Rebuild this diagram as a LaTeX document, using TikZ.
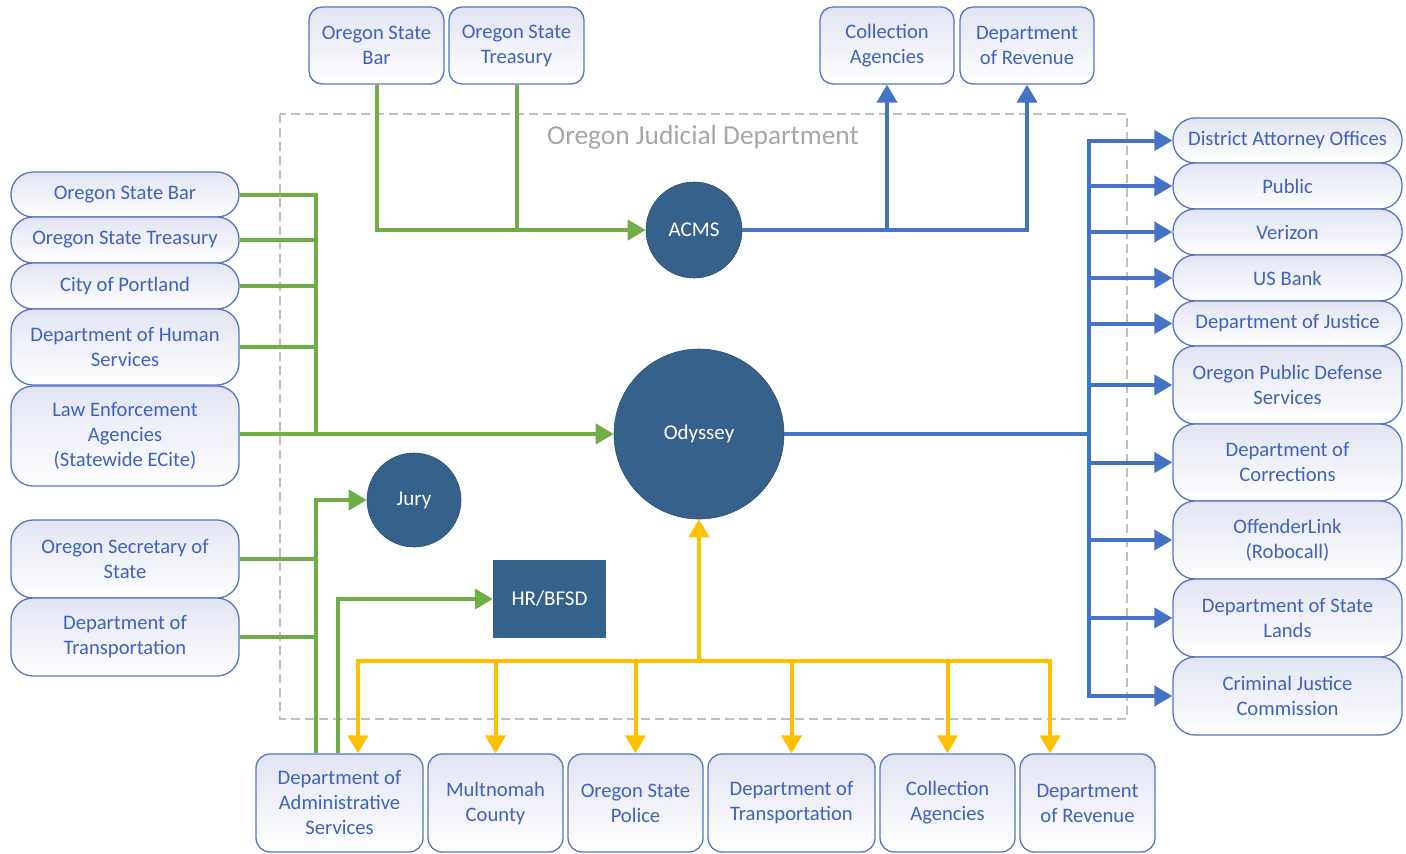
\documentclass[tikz,border=0pt]{standalone}
\usepackage{fontspec}
\setmainfont{Carlito}
\usetikzlibrary{arrows.meta}
\definecolor{gcol}{HTML}{70AD47}
\definecolor{bcol}{HTML}{4472C4}
\definecolor{ycol}{HTML}{FFC000}
\definecolor{navy}{HTML}{36618A}
\definecolor{bbord}{HTML}{5874C4}
\definecolor{btext}{HTML}{3E62BE}
\definecolor{bfill}{HTML}{E2E4F3}
\definecolor{dgray}{HTML}{BFBFBF}
\definecolor{lgray}{HTML}{A6A6A6}
\tikzset{
  basebox/.style={draw=bbord, line width=1.3pt, top color=bfill, bottom color=white, text=btext,
    align=center, inner sep=0pt, font=\fontsize{20.6}{25}\selectfont},
  sbox/.style={basebox, rounded corners=22pt, minimum width=228pt},
  tbox/.style={basebox, rounded corners=13pt, minimum width=135pt, minimum height=77pt},
  bbox/.style={basebox, rounded corners=14pt, minimum height=98pt},
  sysc/.style={circle, fill=navy, draw=navy!80!black, line width=0.6pt, text=white, inner sep=0pt, font=\fontsize{21}{24}\selectfont},
  gline/.style={draw=gcol, line width=4pt},
  bline/.style={draw=bcol, line width=4pt},
  yline/.style={draw=ycol, line width=4pt},
  garrow/.style={gline, -{Triangle[length=18pt,width=20pt]}},
  barrow/.style={bline, -{Triangle[length=18pt,width=20pt]}},
  yarrow/.style={yline, -{Triangle[length=18pt,width=20pt]}},
  dashbox/.style={draw=dgray, line width=1.4pt, dash pattern=on 9pt off 5pt},
}
\begin{document}
\begin{tikzpicture}[x=1pt,y=-1pt]
\useasboundingbox (0,0) rectangle (1406,854);
% Judicial department frame
\draw[dashbox] (280,114) rectangle (1127,719);
\node[text=lgray, font=\fontsize{27.4}{30}\selectfont] (ojd) at (703,137) {Oregon Judicial Department};

% systems
\node[sysc, minimum size=96pt] (acms) at (694,230) {ACMS};
\node[sysc, minimum size=170pt] (ody) at (699,434) {Odyssey};
\node[sysc, minimum size=94pt] (jury) at (414,500) {Jury};
\node[fill=navy, text=white, minimum width=113pt, minimum height=78pt, inner sep=0pt, font=\fontsize{21}{24}\selectfont] (hr) at (549.5,599) {HR/BFSD};

% top boxes
\node[tbox] (osbT) at (376.5,45.5) {Oregon State\\Bar};
\node[tbox] (ostT) at (516.5,45.5) {Oregon State\\Treasury};
\node[tbox, minimum width=134pt] (caT) at (887,45.5) {Collection\\Agencies};
\node[tbox, minimum width=134pt] (dorT) at (1027,45.5) {Department\\of Revenue};

% left boxes
\node[sbox, minimum height=45pt] (lb1) at (125,194.5) {Oregon State Bar};
\node[sbox, minimum height=46pt] (lb2) at (125,240) {Oregon State Treasury};
\node[sbox, minimum height=46pt] (lb3) at (125,286) {City of Portland};
\node[sbox, minimum height=76pt] (lb4) at (125,347) {Department of Human\\Services};
\node[sbox, minimum height=100pt] (lb5) at (125,436) {Law Enforcement\\Agencies\\(Statewide ECite)};
\node[sbox, minimum height=78pt] (lb6) at (125,559) {Oregon Secretary of\\State};
\node[sbox, minimum height=78pt] (lb7) at (125,637) {Department of\\Transportation};

% right boxes
\node[sbox, minimum width=229pt, minimum height=45pt] (rb1) at (1287.5,140.5) {District Attorney Offices};
\node[sbox, minimum width=229pt, minimum height=46pt] (rb2) at (1287.5,186) {Public};
\node[sbox, minimum width=229pt, minimum height=46pt] (rb3) at (1287.5,232) {Verizon};
\node[sbox, minimum width=229pt, minimum height=46pt] (rb4) at (1287.5,278) {US Bank};
\node[sbox, minimum width=229pt, minimum height=45pt] (rb5) at (1287.5,323.5) {Department of Justice};
\node[sbox, minimum width=229pt, minimum height=78pt] (rb6) at (1287.5,385) {Oregon Public Defense\\Services};
\node[sbox, minimum width=229pt, minimum height=77pt] (rb7) at (1287.5,462.5) {Department of\\Corrections};
\node[sbox, minimum width=229pt, minimum height=78pt] (rb8) at (1287.5,540) {OffenderLink\\(Robocall)};
\node[sbox, minimum width=229pt, minimum height=78pt] (rb9) at (1287.5,618) {Department of State\\Lands};
\node[sbox, minimum width=229pt, minimum height=78pt] (rb10) at (1287.5,696) {Criminal Justice\\Commission};

% bottom boxes
\node[bbox, minimum width=167pt] (das) at (339.5,803) {Department of\\Administrative\\Services};
\node[bbox, minimum width=135pt] (mc) at (495.5,803) {Multnomah\\County};
\node[bbox, minimum width=135pt] (osp) at (635.5,803) {Oregon State\\Police};
\node[bbox, minimum width=167pt] (dot) at (791.5,803) {Department of\\Transportation};
\node[bbox, minimum width=135pt] (ca) at (947.5,803) {Collection\\Agencies};
\node[bbox, minimum width=135pt] (dor) at (1087.5,803) {Department\\of Revenue};

% junction coordinates
\coordinate (gB) at (316,434);
\coordinate (g2) at (316,500);
\coordinate (bT) at (1089,140.5);
\coordinate (bB) at (1089,696);
\coordinate (yM) at (699,661);

% green: top boxes to ACMS
\draw[garrow] (osbT.south) |- (acms.west);
\draw[gline] (ostT.south) -- (ostT.south |- acms.west);

% blue: ACMS to top right
\draw[barrow] (acms.east) -| (dorT.south);
\draw[barrow] (acms.east -| caT.south) -- (caT.south);

% green: left boxes to Odyssey
\draw[gline] (lb1.east) -| (gB);
\draw[gline] (lb2.east) -- (lb2.east -| gB);
\draw[gline] (lb3.east) -- (lb3.east -| gB);
\draw[gline] (lb4.east) -- (lb4.east -| gB);
\draw[garrow] (lb5.east |- ody.west) -- (ody.west);

% green: DAS to Jury and HR/BFSD
\draw[garrow] ([xshift=-23.5pt]das.north) |- (jury.west);
\draw[gline] (lb6.east) -- (lb6.east -| g2);
\draw[gline] (lb7.east) -- (lb7.east -| g2);
\draw[garrow] ([xshift=-1.5pt]das.north) |- (hr.west);

% blue: Odyssey to right boxes
\draw[bline] (ody.east) -- (ody.east -| bT);
\draw[barrow] (ody.east -| bT) -- (bT) -- (rb1.west);
\draw[barrow] (ody.east -| bT) -- (bB) -- (rb10.west);
\foreach \r in {rb2,rb3,rb4,rb5,rb6,rb7,rb8,rb9}
  \draw[barrow] (\r.west -| bT) -- (\r.west);

% yellow: bottom boxes to Odyssey
\draw[yarrow] (yM) -- (ody.south);
\draw[yarrow] (yM) -| ([xshift=18.5pt]das.north);
\draw[yarrow] (yM) -| ([xshift=-37.5pt]dor.north);
\draw[yarrow] (mc.north |- yM) -- (mc.north);
\draw[yarrow] (osp.north |- yM) -- (osp.north);
\draw[yarrow] (dot.north |- yM) -- (dot.north);
\draw[yarrow] (ca.north |- yM) -- (ca.north);
\end{tikzpicture}
\end{document}
